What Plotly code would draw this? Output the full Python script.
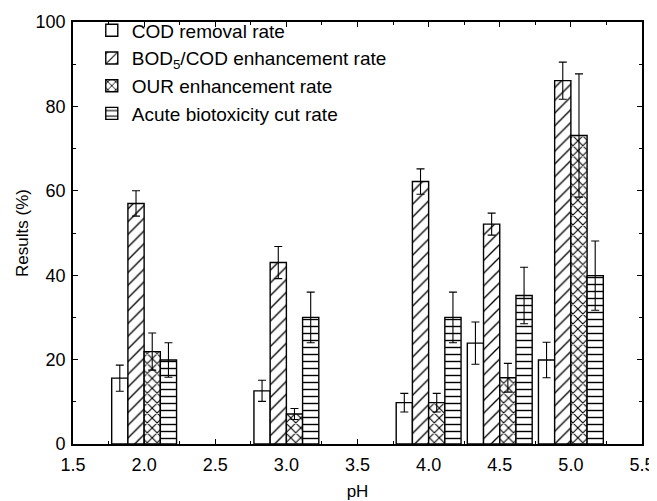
import plotly.graph_objects as go

ph = [2.0, 3.0, 4.0, 4.5, 5.0]

series_names = [
    "COD removal rate",
    "BOD<sub>5</sub>/COD enhancement rate",
    "OUR enhancement rate",
    "Acute biotoxicity cut rate",
]
cod = [15.6, 12.6, 9.8, 23.9, 19.9]
cod_err = [3.1, 2.5, 2.2, 5.0, 4.2]
bod = [57.0, 43.0, 62.2, 52.1, 86.1]
bod_err = [3.0, 3.8, 3.0, 2.6, 4.4]
our = [21.9, 7.1, 9.8, 15.7, 73.1]
our_err = [4.4, 1.3, 2.2, 3.4, 14.6]
acute = [19.9, 30.0, 30.0, 35.2, 39.9]
acute_err = [4.1, 6.0, 6.0, 6.7, 8.2]

values = [cod, bod, our, acute]
errors = [cod_err, bod_err, our_err, acute_err]
patterns = ["", "/", "x", "-"]
pattern_sizes = [8, 9, 7, 7]
pattern_solidity = [0.2, 0.15, 0.28, 0.2]

bw = 0.114
offsets = [-2 * bw, -bw, 0.0, bw]

fig = go.Figure()
for name, v, e, pat, ps, sol, off in zip(series_names, values, errors, patterns,
                                         pattern_sizes, pattern_solidity, offsets):
    fig.add_trace(go.Bar(
        x=ph, y=v, name=name,
        width=bw, offset=off,
        marker=dict(
            color="white",
            line=dict(color="black", width=1.4),
            pattern=dict(shape=pat, fgcolor="black", bgcolor="white", size=ps,
                         solidity=sol, fgopacity=1),
        ),
        error_y=dict(type="data", array=e, visible=True, color="black", thickness=1.1, width=4),
    ))

font_family = "Liberation Sans, Arial, sans-serif"

# page body has an 8px default margin; figure size/margins compensate for it
fig.update_layout(
    width=649, height=493,
    margin=dict(l=65, r=15, t=14, b=57, autoexpand=False),
    barmode="overlay",
    plot_bgcolor="white", paper_bgcolor="white",
    font=dict(family=font_family, size=18, color="black"),
    showlegend=True,
    legend=dict(
        x=0.033, y=1.025, xanchor="left", yanchor="top",
        bgcolor="rgba(0,0,0,0)", borderwidth=0,
        font=dict(size=19), tracegroupgap=2,
    ),
    xaxis=dict(
        range=[1.5, 5.5], tickvals=[1.5, 2.0, 2.5, 3.0, 3.5, 4.0, 4.5, 5.0, 5.5],
        ticktext=["1.5", "2.0", "2.5", "3.0", "3.5", "4.0", "4.5", "5.0", "5.5"],
        ticks="inside", ticklen=5, tickwidth=1, tickcolor="black",
        minor=dict(dtick=0.25, tick0=1.5, ticks="inside", ticklen=3, tickcolor="black"),
        showline=True, linecolor="black", linewidth=1.8, mirror="allticks",
        showgrid=False, zeroline=False,
        title=dict(text="pH", font=dict(size=17), standoff=12),
        tickfont=dict(size=18), ticklabelstandoff=3,
    ),
    yaxis=dict(
        range=[0, 100], dtick=20,
        ticks="inside", ticklen=5, tickwidth=1, tickcolor="black",
        minor=dict(dtick=10, ticks="inside", ticklen=3, tickcolor="black"),
        showline=True, linecolor="black", linewidth=1.8, mirror="allticks",
        showgrid=False, zeroline=False,
        title=dict(text="Results (%)", font=dict(size=17), standoff=3),
        tickfont=dict(size=18), ticklabelstandoff=2,
    ),
)

fig.write_html("out.html")
